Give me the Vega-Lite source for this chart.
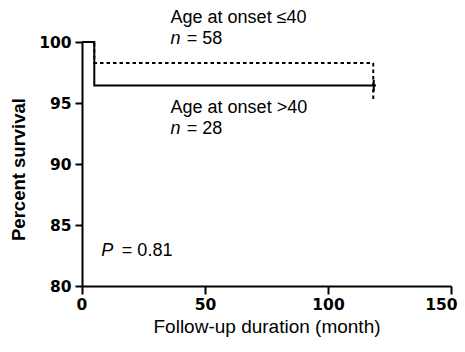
{
  "$schema": "https://vega.github.io/schema/vega-lite/v6.json",
  "width": 369,
  "height": 244,
  "autosize": {"type": "none"},
  "padding": {"left": 82, "top": 42, "right": 14, "bottom": 66},
  "background": "white",
  "config": {
    "view": {"stroke": null},
    "axis": {
      "domainColor": "black", "domainWidth": 2, "tickColor": "black", "tickWidth": 2,
      "labelColor": "black", "titleColor": "black", "grid": false, "labelFlush": false,
      "labelFont": "DejaVu Sans", "labelFontWeight": "bold", "labelFontSize": 15.5
    }
  },
  "datasets": {
    "curves": [
      {"month": 0, "survival": 100, "group": "Age at onset ≤40"},
      {"month": 5, "survival": 98.28, "group": "Age at onset ≤40"},
      {"month": 118.4, "survival": 98.28, "group": "Age at onset ≤40"},
      {"month": 0, "survival": 100, "group": "Age at onset >40"},
      {"month": 5, "survival": 96.43, "group": "Age at onset >40"},
      {"month": 119.5, "survival": 96.43, "group": "Age at onset >40"}
    ],
    "censor": [
      {"month": 118.4, "top": 98.28, "bottom": 95.3, "group": "Age at onset ≤40"},
      {"month": 118.6, "top": 96.9, "bottom": 95.95, "group": "Age at onset >40"}
    ],
    "notes": [
      {"x": 36.0, "y": 101.52, "label": "Age at onset ≤40", "style": "normal"},
      {"x": 36.0, "y": 99.84, "label": "n", "style": "italic"},
      {"x": 42.6, "y": 99.84, "label": "= 58", "style": "normal"},
      {"x": 36.0, "y": 94.18, "label": "Age at onset >40", "style": "normal"},
      {"x": 36.0, "y": 92.46, "label": "n", "style": "italic"},
      {"x": 42.6, "y": 92.46, "label": "= 28", "style": "normal"},
      {"x": 7.8, "y": 82.46, "label": "P", "style": "italic"},
      {"x": 16.2, "y": 82.46, "label": "= 0.81", "style": "normal"}
    ]
  },
  "layer": [
    {
      "data": {"name": "curves"},
      "transform": [{"filter": "datum.group === 'Age at onset ≤40'"}],
      "mark": {"type": "line", "interpolate": "step-after", "color": "black", "strokeWidth": 2, "strokeDash": [3.5, 3]},
      "encoding": {
        "x": {"field": "month", "type": "quantitative",
          "scale": {"domain": [0, 150], "nice": false, "zero": false},
          "axis": {"values": [0, 50, 100, 150], "tickSize": 8, "labelPadding": 3,
            "labelFlush": true, "labelFlushOffset": 6,
            "title": "Follow-up duration (month)", "titleFont": "Liberation Sans", "titleFontWeight": "normal", "titleFontSize": 19, "titlePadding": 5}},
        "y": {"field": "survival", "type": "quantitative",
          "scale": {"domain": [80, 100], "nice": false, "zero": false},
          "axis": {"values": [80, 85, 90, 95, 100], "tickSize": 7, "labelPadding": 4,
            "title": "Percent survival", "titleFont": "Liberation Sans", "titleFontWeight": "bold", "titleFontSize": 18.5, "titlePadding": 10, "titleY": 127}}
      }
    },
    {
      "data": {"name": "curves"},
      "transform": [{"filter": "datum.group === 'Age at onset >40'"}],
      "mark": {"type": "line", "interpolate": "step-after", "color": "black", "strokeWidth": 2},
      "encoding": {
        "x": {"field": "month", "type": "quantitative"},
        "y": {"field": "survival", "type": "quantitative"}
      }
    },
    {
      "data": {"name": "censor"},
      "transform": [{"filter": "datum.group === 'Age at onset ≤40'"}],
      "mark": {"type": "rule", "color": "black", "strokeWidth": 2, "strokeDash": [3.5, 3]},
      "encoding": {
        "x": {"field": "month", "type": "quantitative"},
        "y": {"field": "top", "type": "quantitative"},
        "y2": {"field": "bottom"}
      }
    },
    {
      "data": {"name": "censor"},
      "transform": [{"filter": "datum.group === 'Age at onset >40'"}],
      "mark": {"type": "rule", "color": "black", "strokeWidth": 2},
      "encoding": {
        "x": {"field": "month", "type": "quantitative"},
        "y": {"field": "top", "type": "quantitative"},
        "y2": {"field": "bottom"}
      }
    },
    {
      "data": {"name": "notes"},
      "transform": [{"filter": "datum.style === 'normal'"}],
      "mark": {"type": "text", "align": "left", "baseline": "alphabetic", "font": "Liberation Sans", "fontSize": 18, "color": "black"},
      "encoding": {
        "x": {"field": "x", "type": "quantitative"},
        "y": {"field": "y", "type": "quantitative"},
        "text": {"field": "label"}
      }
    },
    {
      "data": {"name": "notes"},
      "transform": [{"filter": "datum.style === 'italic'"}],
      "mark": {"type": "text", "align": "left", "baseline": "alphabetic", "font": "Liberation Sans", "fontSize": 18, "fontStyle": "italic", "color": "black"},
      "encoding": {
        "x": {"field": "x", "type": "quantitative"},
        "y": {"field": "y", "type": "quantitative"},
        "text": {"field": "label"}
      }
    }
  ]
}
